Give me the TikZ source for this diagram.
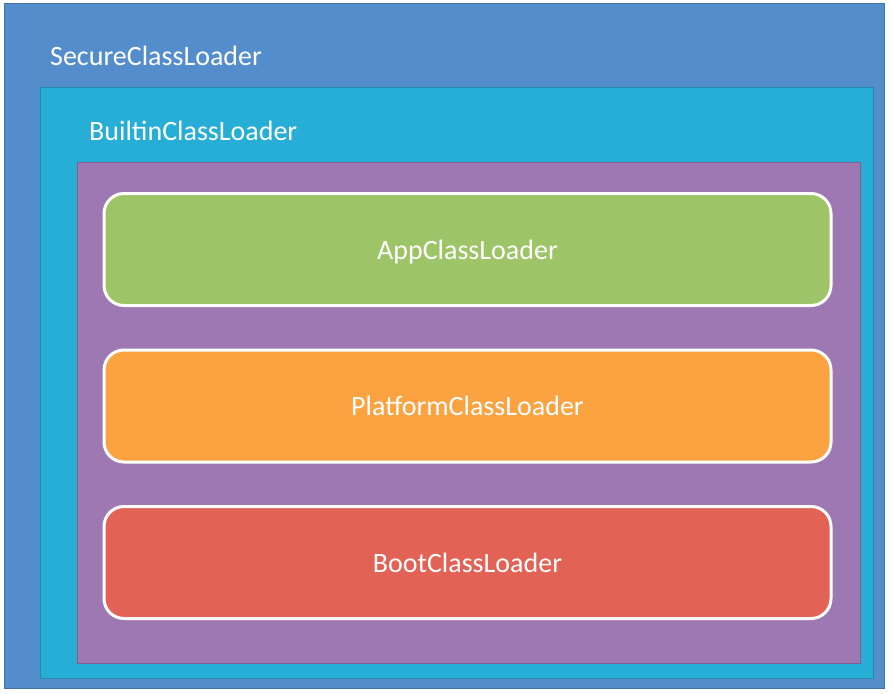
\documentclass[tikz,border=0pt]{standalone}
\usepackage{fontspec}
\setmainfont{Carlito}
\usepackage{tikz}
\usetikzlibrary{positioning}
\definecolor{secureblue}{RGB}{84,141,204}
\definecolor{builtincyan}{RGB}{38,174,214}
\definecolor{loaderpurple}{RGB}{157,120,178}
\definecolor{appgreen}{RGB}{158,196,104}
\definecolor{platorange}{RGB}{250,163,64}
\definecolor{bootred}{RGB}{226,99,85}
\tikzset{
  layer/.style={draw=#1!80!black, line width=1pt, fill=#1},
  layertitle/.style={anchor=west, inner sep=0pt, text=white, font=\fontsize{28}{31}\selectfont},
  loaderbox/.style={draw=white, line width=3pt, fill=#1, rounded corners=20pt,
    minimum width=727pt, minimum height=112pt, text depth=0pt, text=white,
    font=\fontsize{28}{31}\selectfont}
}

\begin{document}
\begin{tikzpicture}[x=1pt, y=-1pt]
\useasboundingbox (0,0) rectangle (893,693);
% nested layers
\draw[layer=secureblue] (4,4) rectangle (884,688);
\draw[layer=builtincyan] (40,87) rectangle (873,678);
\draw[layer=loaderpurple] (77,162) rectangle (860,663);
\node[layertitle] (secure) at (50,56) {SecureClassLoader};
\node[layertitle] (builtin) at (89,131) {BuiltinClassLoader};
% loaders
\node[loaderbox=appgreen] (app) at (467.5,249.5) {AppClassLoader};
\node[loaderbox=platorange, below=41.5pt of app] (platform) {PlatformClassLoader};
\node[loaderbox=bootred, below=41.5pt of platform] (boot) {BootClassLoader};
\end{tikzpicture}
\end{document}
